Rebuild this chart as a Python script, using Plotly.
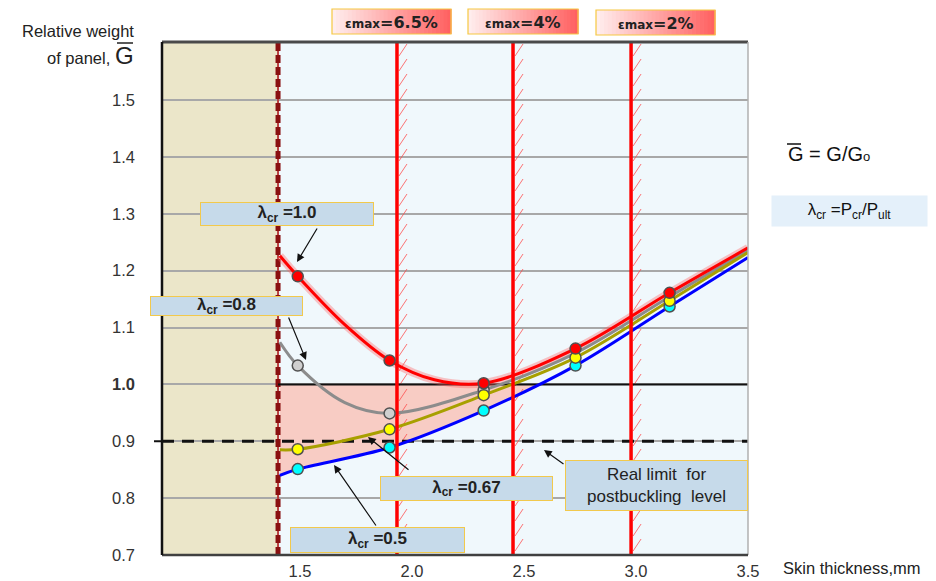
import plotly.graph_objects as go

# ---------------- data ----------------
thickness_mk = [1.49, 1.90, 2.32, 2.73, 3.15]

red_curve_x = [1.41, 1.49, 1.70, 1.90, 2.10, 2.32, 2.73, 3.15, 3.50]
red_curve_y = [1.226, 1.190, 1.105, 1.042, 1.008, 1.002, 1.063, 1.161, 1.240]
red_mk_y = [1.190, 1.042, 1.002, 1.063, 1.161]

gray_curve_x = [1.41, 1.49, 1.70, 1.90, 2.32, 2.73, 3.15, 3.50]
gray_curve_y = [1.074, 1.033, 0.968, 0.949, 0.990, 1.055, 1.154, 1.236]
gray_mk_x = [1.49, 1.90, 2.32]
gray_mk_y = [1.033, 0.949, 0.990]

yel_curve_x = [1.41, 1.49, 1.90, 2.32, 2.73, 3.15, 3.50]
yel_curve_y = [0.885, 0.886, 0.921, 0.981, 1.047, 1.147, 1.232]
yel_mk_y = [0.886, 0.921, 0.981, 1.047, 1.147]

blue_curve_x = [1.41, 1.49, 1.90, 2.32, 2.73, 3.15, 3.50]
blue_curve_y = [0.840, 0.851, 0.889, 0.954, 1.033, 1.137, 1.223]
blue_mk_y = [0.851, 0.889, 0.954, 1.033, 1.137]

pink_x = [1.41, 1.49, 1.90, 2.32, 2.57]
pink_lower = [0.840, 0.851, 0.889, 0.954, 1.000]

eps_x = [1.933, 2.451, 2.978]
eps_labels = ["6.5%", "4%", "2%"]
min_thickness = 1.402
real_limit = 0.9
ref_level = 1.0

x_ticks = [1.5, 2.0, 2.5, 3.0, 3.5]
x_ticktext = ["1.5", "2.0", "2.5", "3.0", "3.5"]
y_ticks = [0.7, 0.8, 0.9, 1.0, 1.1, 1.2, 1.3, 1.4, 1.5]
y_ticktext = ["0.7", "0.8", "0.9", "<b>1.0</b>", "1.1", "1.2", "1.3", "1.4", "1.5"]

X_RANGE = [0.884, 3.5]
Y_RANGE = [0.7, 1.602]

# ---------------- layout helpers (screen pixel -> paper) ----------------
OFF = 8  # page body margin
W, H = 936, 581
L, T = 162 - OFF, 42 - OFF
PW, PH = 586, 513
R, B = W - L - PW, H - T - PH


def px_x(px):
    return (px - OFF - L) / PW


def px_y(py):
    return (T + PH - (py - OFF)) / PH


FONT = "Arial, Liberation Sans, sans-serif"
fig = go.Figure()

# pink region between 1.0 and lower curve
fig.add_trace(go.Scatter(x=[pink_x[0], pink_x[-1]], y=[ref_level, ref_level], mode="lines",
                         line=dict(width=0, color="rgba(0,0,0,0)"), hoverinfo="skip"))
fig.add_trace(go.Scatter(x=pink_x, y=pink_lower, mode="lines", fill="tonexty",
                         fillcolor="#F8CCC4", line=dict(width=0, shape="spline"), hoverinfo="skip"))

# hatching right of strain-limit lines
hx, hy = [], []
dxu = (X_RANGE[1] - X_RANGE[0]) / PW
dyu = (Y_RANGE[1] - Y_RANGE[0]) / PH
for e in eps_x:
    yv = Y_RANGE[0] + 4 * dyu
    while yv < Y_RANGE[1]:
        hx += [e + 2 * dxu, e + 10 * dxu, None]
        hy += [yv, yv + 12 * dyu, None]
        yv += 15 * dyu
fig.add_trace(go.Scatter(x=hx, y=hy, mode="lines", line=dict(color="rgba(255,70,70,0.75)", width=1),
                         hoverinfo="skip"))

# minimal thickness dashed line
fig.add_trace(go.Scatter(x=[min_thickness, min_thickness], y=Y_RANGE, mode="lines",
                         line=dict(color="#B84040", width=2), hoverinfo="skip"))
fig.add_trace(go.Scatter(x=[min_thickness, min_thickness], y=Y_RANGE, mode="lines",
                         line=dict(color="#8A1010", width=5, dash="8px,4px"), hoverinfo="skip"))

# reference lines
fig.add_trace(go.Scatter(x=[min_thickness, X_RANGE[1]], y=[ref_level, ref_level], mode="lines",
                         line=dict(color="#111111", width=2), hoverinfo="skip"))
fig.add_trace(go.Scatter(x=X_RANGE, y=[real_limit, real_limit], mode="lines",
                         line=dict(color="#111111", width=3, dash="12px,8px"), hoverinfo="skip"))

# curves
fig.add_trace(go.Scatter(x=red_curve_x, y=red_curve_y, mode="lines",
                         line=dict(color="rgba(255,90,90,0.35)", width=8, shape="spline"), hoverinfo="skip"))
fig.add_trace(go.Scatter(x=gray_curve_x, y=gray_curve_y, mode="lines",
                         line=dict(color="#8C8C8C", width=3, shape="spline")))
fig.add_trace(go.Scatter(x=blue_curve_x, y=blue_curve_y, mode="lines",
                         line=dict(color="#0000FF", width=3, shape="spline")))
fig.add_trace(go.Scatter(x=yel_curve_x, y=yel_curve_y, mode="lines",
                         line=dict(color="#A8A000", width=3, shape="spline")))
fig.add_trace(go.Scatter(x=red_curve_x, y=red_curve_y, mode="lines",
                         line=dict(color="#FF0000", width=3, shape="spline")))

# strain limit lines
for e in eps_x:
    fig.add_trace(go.Scatter(x=[e, e], y=Y_RANGE, mode="lines",
                             line=dict(color="#FF0000", width=3.5), hoverinfo="skip"))

# markers
mk_line = dict(color="#505050", width=1.5)
fig.add_trace(go.Scatter(x=gray_mk_x, y=gray_mk_y, mode="markers",
                         marker=dict(color="#CFCFCF", size=11, line=mk_line)))
fig.add_trace(go.Scatter(x=thickness_mk, y=blue_mk_y, mode="markers",
                         marker=dict(color="#00FFFF", size=11, line=mk_line)))
fig.add_trace(go.Scatter(x=thickness_mk, y=yel_mk_y, mode="markers",
                         marker=dict(color="#FFFF00", size=11, line=mk_line)))
fig.add_trace(go.Scatter(x=thickness_mk, y=red_mk_y, mode="markers",
                         marker=dict(color="#FF0000", size=11, line=mk_line)))

shapes = []
# backgrounds
shapes.append(dict(type="rect", xref="x", yref="paper", x0=X_RANGE[0], x1=min_thickness, y0=0, y1=1,
                   fillcolor="#EBE6C9", line=dict(width=0), layer="below"))
shapes.append(dict(type="rect", xref="x", yref="paper", x0=min_thickness, x1=X_RANGE[1], y0=0, y1=1,
                   fillcolor="#F0F8FC", line=dict(width=0), layer="below"))
# frame
shapes.append(dict(type="line", xref="paper", yref="paper", x0=0, x1=1, y0=1, y1=1,
                   line=dict(color="#4A4A4A", width=3), layer="above"))
shapes.append(dict(type="line", xref="paper", yref="paper", x0=1, x1=1, y0=0, y1=1,
                   line=dict(color="#B0B0B0", width=1.5), layer="above"))
shapes.append(dict(type="line", xref="paper", yref="paper", x0=0, x1=1, y0=0, y1=0,
                   line=dict(color="#404040", width=2.5), layer="above"))
shapes.append(dict(type="line", xref="paper", yref="paper", x0=0, x1=0, y0=0, y1=1,
                   line=dict(color="#111111", width=2.5), layer="above"))
shapes.append(dict(type="line", xref="paper", yref="y", x0=px_x(154), x1=0, y0=real_limit, y1=real_limit,
                   line=dict(color="#111111", width=2)))

annotations = []

# top strain boxes with gradient
eps_boxes = [(332, 451, 9, 34), (468, 578, 9, 34), (596, 715, 10, 35)]
NSTRIP = 30
c0, c1 = (255, 240, 240), (255, 95, 95)
for (bx0, bx1, by0, by1), lab in zip(eps_boxes, eps_labels):
    for k in range(NSTRIP):
        t = (k + 0.5) / NSTRIP
        col = "rgb(%d,%d,%d)" % tuple(int(c0[j] + (c1[j] - c0[j]) * t) for j in range(3))
        sx0 = bx0 + (bx1 - bx0) * k / NSTRIP
        sx1 = bx0 + (bx1 - bx0) * (k + 1) / NSTRIP + 0.6
        shapes.append(dict(type="rect", xref="paper", yref="paper", x0=px_x(sx0), x1=px_x(sx1),
                           y0=px_y(by1), y1=px_y(by0), fillcolor=col, line=dict(width=0)))
    shapes.append(dict(type="rect", xref="paper", yref="paper", x0=px_x(bx0), x1=px_x(bx1),
                       y0=px_y(by1), y1=px_y(by0), line=dict(color="#F5C842", width=1.2)))
    annotations.append(dict(xref="paper", yref="paper", x=px_x((bx0 + bx1) / 2), y=px_y((by0 + by1) / 2 + 1),
                            xanchor="center", yanchor="middle", showarrow=False,
                            text="<b><span style='font-size:12px'>\u03b5max</span>=" + lab + "</b>",
                            font=dict(family="Verdana, DejaVu Sans, sans-serif", size=16, color="#222222")))

# lambda boxes
lam_boxes = [
    ("\u03bb<sub>cr</sub> =1.0", 200, 374, 202, 226),
    ("\u03bb<sub>cr</sub> =0.8", 150, 303, 296, 316),
    ("\u03bb<sub>cr</sub> =0.67", 380, 553, 476, 501),
    ("\u03bb<sub>cr</sub> =0.5", 290, 465, 527, 553),
]
for txt, bx0, bx1, by0, by1 in lam_boxes:
    annotations.append(dict(xref="paper", yref="paper", x=px_x((bx0 + bx1) / 2), y=px_y((by0 + by1) / 2),
                            xanchor="center", yanchor="middle", showarrow=False,
                            width=bx1 - bx0 - 4, height=by1 - by0 - 4, borderpad=1,
                            bgcolor="#C6DAEA", bordercolor="#F2C94C", borderwidth=1,
                            text="<b>" + txt + "</b>",
                            font=dict(family=FONT, size=17, color="#222222")))

# real limit box
annotations.append(dict(xref="paper", yref="paper", x=px_x(656), y=px_y(485),
                        xanchor="center", yanchor="middle", showarrow=False,
                        width=179, height=47, borderpad=1,
                        bgcolor="#C6DAEA", bordercolor="#F2C94C", borderwidth=1,
                        text="Real limit&nbsp;&nbsp;for<br>postbuckling&nbsp;&nbsp;level",
                        font=dict(family=FONT, size=17, color="#222222")))

# arrows (tail px, tip px)
arrows = [((318, 227), (297, 262)), ((288, 316), (306, 360)), ((410, 471), (368, 437)),
          ((377, 527), (334, 465)), ((565, 465), (544, 450))]
for (tx, ty), (hx_, hy_) in arrows:
    annotations.append(dict(xref="paper", yref="paper", x=px_x(hx_), y=px_y(hy_),
                            ax=tx - hx_, ay=ty - hy_, axref="pixel", ayref="pixel",
                            text="", showarrow=True, arrowhead=2, arrowsize=1.3, arrowwidth=1.2,
                            arrowcolor="#111111", standoff=0, startstandoff=0))

# axis titles
annotations.append(dict(xref="paper", yref="paper", x=px_x(136), y=px_y(31), xanchor="right",
                        yanchor="middle", showarrow=False, text="Relative weight",
                        font=dict(family=FONT, size=16.5, color="#222222")))
annotations.append(dict(xref="paper", yref="paper", x=px_x(136), y=px_y(55), xanchor="right",
                        yanchor="middle", showarrow=False,
                        text="of panel, <span style='font-size:24px'>G</span>",
                        font=dict(family=FONT, size=16.5, color="#222222")))
shapes.append(dict(type="line", xref="paper", yref="paper", x0=px_x(117), x1=px_x(133),
                   y0=px_y(43), y1=px_y(43), line=dict(color="#222222", width=1.5)))
annotations.append(dict(xref="paper", yref="paper", x=px_x(781), y=px_y(568), xanchor="left",
                        yanchor="middle", showarrow=False, text="Skin thickness,mm",
                        font=dict(family=FONT, size=16.5, color="#222222")))

# right-side formulas
annotations.append(dict(xref="paper", yref="paper", x=px_x(786), y=px_y(154), xanchor="left",
                        yanchor="middle", showarrow=False,
                        text="G = G/G<span style='font-size:13px'>o</span>",
                        font=dict(family=FONT, size=20, color="#111111")))
shapes.append(dict(type="line", xref="paper", yref="paper", x0=px_x(787), x1=px_x(801),
                   y0=px_y(144), y1=px_y(144), line=dict(color="#111111", width=1.5)))
annotations.append(dict(xref="paper", yref="paper", x=px_x(849), y=px_y(211), xanchor="center",
                        yanchor="middle", showarrow=False, width=151, height=26, borderpad=2,
                        bgcolor="#E4F0FA",
                        text="\u03bb<sub>cr</sub> =P<sub>cr</sub>/P<sub>ult</sub>",
                        font=dict(family=FONT, size=17, color="#111111")))

fig.update_layout(
    width=W, height=H,
    margin=dict(l=L, r=R, t=T, b=B, autoexpand=False),
    paper_bgcolor="white", plot_bgcolor="white",
    showlegend=False,
    font=dict(family=FONT, size=16, color="#333333"),
    xaxis=dict(range=X_RANGE, tickvals=x_ticks, ticktext=x_ticktext, showgrid=False, zeroline=False,
               showline=False, ticks="", ticklabelstandoff=4, automargin=False,
               tickfont=dict(family=FONT, size=16.5, color="#333333")),
    yaxis=dict(range=Y_RANGE, tickvals=y_ticks, ticktext=y_ticktext, showgrid=True,
               gridcolor="#A8A8A8", gridwidth=1.5, zeroline=False, showline=False, ticks="",
               ticklabelstandoff=26, automargin=False,
               tickfont=dict(family=FONT, size=16.5, color="#333333")),
    shapes=shapes,
    annotations=annotations,
)

fig.write_html("out.html")
